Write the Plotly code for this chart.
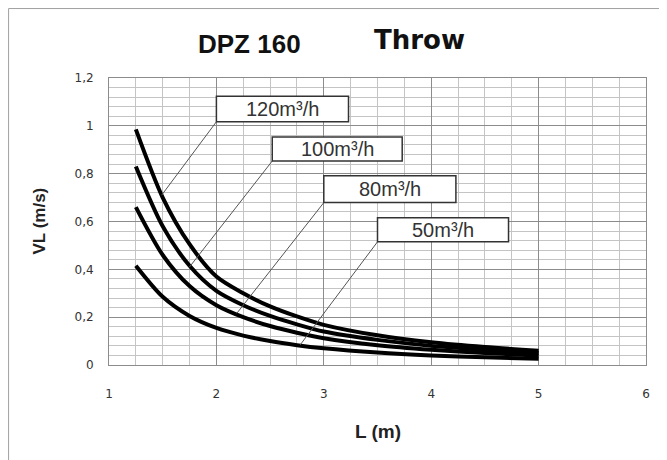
import plotly.graph_objects as go

# ---- data ----
L_m = [1.25, 1.5, 1.75, 2.0, 2.25, 2.5, 2.75, 3.0, 3.5, 4.0, 4.5, 5.0]
v_120 = [0.985, 0.70, 0.505, 0.37, 0.30, 0.245, 0.203, 0.168, 0.124, 0.095, 0.075, 0.06]
v_100 = [0.83, 0.58, 0.415, 0.31, 0.25, 0.205, 0.17, 0.14, 0.105, 0.08, 0.063, 0.05]
v_80 = [0.66, 0.46, 0.33, 0.25, 0.20, 0.163, 0.135, 0.112, 0.083, 0.064, 0.05, 0.04]
v_50 = [0.415, 0.285, 0.205, 0.155, 0.123, 0.10, 0.083, 0.07, 0.052, 0.04, 0.032, 0.026]
flow_labels = ["120m³/h", "100m³/h", "80m³/h", "50m³/h"]

x_ticks = [1, 2, 3, 4, 5, 6]
x_tick_text = ["1", "2", "3", "4", "5", "6"]
y_ticks = [0, 0.2, 0.4, 0.6, 0.8, 1.0, 1.2]
y_tick_text = ["0", "0,2", "0,4", "0,6", "0,8", "1", "1,2"]

title_left = "DPZ 160"
title_right = "Throw"
x_title = "L (m)"
y_title = "VL (m/s)"

FONT = "Liberation Sans, Arial, sans-serif"

fig = go.Figure()
for vals in [v_120, v_100, v_80, v_50]:
    fig.add_trace(go.Scatter(
        x=L_m, y=vals, mode="lines",
        line=dict(color="black", width=4, shape="spline", smoothing=0.8),
        showlegend=False, hoverinfo="skip"))

# label boxes (x0, x1, y0, y1) and leader-line end points (data coords)
boxes = [
    (2.00, 3.23, 1.017, 1.124, 1.49, 0.71),
    (2.52, 3.73, 0.853, 0.953, 1.75, 0.41),
    (3.00, 4.23, 0.679, 0.791, 2.19, 0.216),
    (3.50, 4.72, 0.515, 0.616, 2.78, 0.084),
]
shapes = []
annotations = []
for (bx0, bx1, by0, by1, lx, ly), lab in zip(boxes, flow_labels):
    shapes.append(dict(type="line", xref="x", yref="y", x0=bx0, y0=by0, x1=lx, y1=ly,
                       line=dict(color="#555555", width=1)))
    shapes.append(dict(type="rect", xref="x", yref="y", x0=bx0, x1=bx1, y0=by0, y1=by1,
                       fillcolor="white", line=dict(color="#333333", width=1.5), layer="above"))
    annotations.append(dict(x=(bx0 + bx1) / 2, y=(by0 + by1) / 2, xref="x", yref="y",
                            xanchor="center", yanchor="middle",
                            text=lab, showarrow=False,
                            font=dict(family=FONT, size=20, color="#333333")))

# outer frame (left and top)
shapes.append(dict(type="line", xref="paper", yref="paper", x0=-0.187, x1=-0.187, y0=-0.4, y1=1.242,
                   line=dict(color="#a0a0a0", width=1)))
shapes.append(dict(type="line", xref="paper", yref="paper", x0=-0.187, x1=1.1, y0=1.242, y1=1.242,
                   line=dict(color="#a0a0a0", width=1)))

annotations += [
    dict(x=0.262, y=1.118, xref="paper", yref="paper", text="<b>%s</b>" % title_left, showarrow=False,
         xanchor="center", yanchor="middle",
         font=dict(family=FONT, size=26, color="#111111")),
    dict(x=0.578, y=1.132, xref="paper", yref="paper", text="<b>%s</b>" % title_right, showarrow=False,
         xanchor="center", yanchor="middle",
         font=dict(family="DejaVu Sans, sans-serif", size=26, color="#111111")),
    dict(x=0, y=0.5, xref="paper", yref="paper", xshift=-70, text="<b>%s</b>" % y_title, showarrow=False,
         xanchor="center", yanchor="middle",
         textangle=-90, font=dict(family=FONT, size=17, color="#222222")),
    dict(x=0.5, y=0, xref="paper", yref="paper", yshift=-66, text="<b>%s</b>" % x_title, showarrow=False,
         xanchor="center", yanchor="middle",
         font=dict(family=FONT, size=19, color="#222222")),
]

axis_common = dict(showgrid=True, gridcolor="#8c8c8c", gridwidth=1, zeroline=False,
                   showline=True, linecolor="#8c8c8c", linewidth=1, mirror=True, ticks="",
                   tickfont=dict(family="DejaVu Sans, sans-serif", size=12, color="#333333"))

fig.update_layout(
    width=659, height=452,
    margin=dict(l=101, r=20.5, t=70, b=95),
    paper_bgcolor="white", plot_bgcolor="white",
    xaxis=dict(range=[1, 6], tickvals=x_ticks, ticktext=x_tick_text, ticklabelstandoff=18,
               minor=dict(tick0=1, dtick=0.25, showgrid=True, gridcolor="#c4c4c4", gridwidth=1),
               **axis_common),
    yaxis=dict(range=[0, 1.2], tickvals=y_ticks, ticktext=y_tick_text, ticklabelstandoff=12,
               minor=dict(tick0=0, dtick=0.04, showgrid=True, gridcolor="#c4c4c4", gridwidth=1),
               **axis_common),
    shapes=shapes,
    annotations=annotations,
)

fig.write_html("out.html")
